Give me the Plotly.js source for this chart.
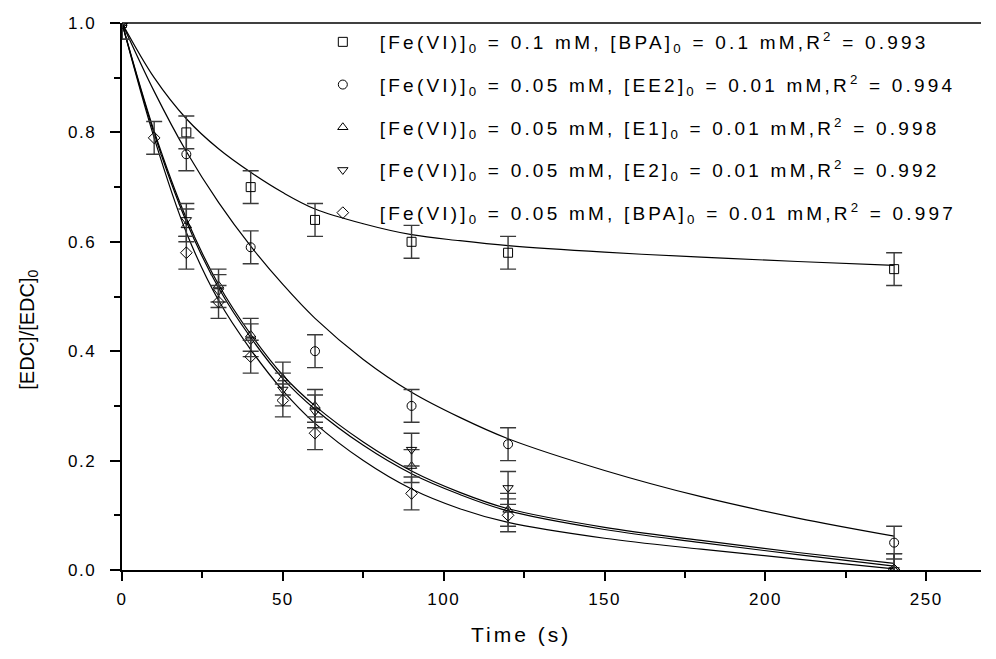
<!DOCTYPE html>
<html>
<head>
<meta charset="utf-8">
<script src="https://cdn.plot.ly/plotly-3.0.1.min.js"></script>
<style>
  html, body { margin: 0; padding: 0; background: #fff; }
  #chart { width: 996px; height: 659px; }
  .legendtext { letter-spacing: 3.2px; }
  .xtick text, .ytick text { letter-spacing: 1.5px; }
</style>
</head>
<body>
<div id="chart"></div>
<script>
// ---- data ----
const seriesNames = [
  "[Fe(VI)]<sub>0</sub> = 0.1 mM, [BPA]<sub>0</sub> = 0.1 mM,R<sup>2</sup> = 0.993",
  "[Fe(VI)]<sub>0</sub> = 0.05 mM, [EE2]<sub>0</sub> = 0.01 mM,R<sup>2</sup> = 0.994",
  "[Fe(VI)]<sub>0</sub> = 0.05 mM, [E1]<sub>0</sub> = 0.01 mM,R<sup>2</sup> = 0.998",
  "[Fe(VI)]<sub>0</sub> = 0.05 mM, [E2]<sub>0</sub> = 0.01 mM,R<sup>2</sup> = 0.992",
  "[Fe(VI)]<sub>0</sub> = 0.05 mM, [BPA]<sub>0</sub> = 0.01 mM,R<sup>2</sup> = 0.997"
];
const symbols = ["square-open", "circle-open", "triangle-up-open", "triangle-down-open", "diamond-open"];

const tBPA01 = [0, 20, 40, 60, 90, 120, 240];
const yBPA01 = [1.0, 0.80, 0.70, 0.64, 0.60, 0.58, 0.55];
const tEE2 = [0, 20, 40, 60, 90, 120, 240];
const yEE2 = [1.0, 0.76, 0.59, 0.40, 0.30, 0.23, 0.05];
const tE1 = [0, 20, 30, 40, 50, 60, 90, 120, 240];
const yE1 = [1.0, 0.63, 0.52, 0.43, 0.35, 0.30, 0.19, 0.11, 0.0];
const tE2 = [0, 20, 30, 40, 50, 60, 90, 120, 240];
const yE2 = [1.0, 0.64, 0.51, 0.42, 0.33, 0.29, 0.22, 0.15, 0.0];
const tBPA001 = [0, 10, 20, 30, 40, 50, 60, 90, 120, 240];
const yBPA001 = [1.0, 0.79, 0.58, 0.49, 0.39, 0.31, 0.25, 0.14, 0.10, 0.0];
const errVal = 0.03;

// fitted curves
const fitT = [0, 10, 20, 30, 40, 50, 60, 75, 90, 105, 120, 150, 180, 210, 240];
const fitBPA01 = [1.0, 0.90, 0.825, 0.77, 0.727, 0.69, 0.66, 0.633, 0.613, 0.602, 0.593, 0.581, 0.572, 0.564, 0.557];
const fitEE2 = [1.0, 0.875, 0.765, 0.672, 0.592, 0.522, 0.46, 0.385, 0.325, 0.279, 0.240, 0.182, 0.134, 0.095, 0.062];
const fitE1 = [1.0, 0.802, 0.643, 0.522, 0.431, 0.356, 0.300, 0.234, 0.181, 0.142, 0.112, 0.078, 0.054, 0.032, 0.012];
const fitE2 = [1.0, 0.798, 0.637, 0.516, 0.425, 0.350, 0.294, 0.228, 0.176, 0.138, 0.108, 0.074, 0.050, 0.028, 0.007];
const fitBPA001 = [1.0, 0.79, 0.617, 0.493, 0.403, 0.328, 0.268, 0.200, 0.148, 0.112, 0.087, 0.058, 0.038, 0.020, 0.002];

const dataSets = [
  [tBPA01, yBPA01, fitBPA01],
  [tEE2, yEE2, fitEE2],
  [tE1, yE1, fitE1],
  [tE2, yE2, fitE2],
  [tBPA001, yBPA001, fitBPA001]
];

const traces = [];
dataSets.forEach((d, i) => {
  traces.push({
    x: fitT, y: d[2], mode: 'lines', type: 'scatter',
    line: { color: '#000', width: 1.2, shape: 'spline', smoothing: 1 },
    showlegend: false, hoverinfo: 'skip'
  });
});
dataSets.forEach((d, i) => {
  traces.push({
    x: d[0], y: d[1], mode: 'markers', type: 'scatter',
    name: seriesNames[i], legendgroup: 'g' + i,
    marker: { symbol: symbols[i], size: 9, color: '#000', line: { width: 1, color: '#000' } },
    error_y: { type: 'constant', value: errVal, color: '#3a3a3a', thickness: 1.4, width: 8 }
  });
});

const layout = {
  width: 996, height: 659,
  margin: { l: 122, r: 15, t: 23, b: 89 },
  paper_bgcolor: '#fff', plot_bgcolor: '#fff',
  font: { family: 'Liberation Sans, Arial, sans-serif', color: '#000', size: 17 },
  showlegend: true,
  legend: {
    x: 0.214, y: 1.0, xanchor: 'left', yanchor: 'top',
    bgcolor: 'rgba(0,0,0,0)', borderwidth: 0,
    font: { size: 19, color: '#000' },
    itemwidth: 64,
    traceorder: 'grouped', tracegroupgap: 15
  },
  xaxis: {
    range: [0, 267], showgrid: false, zeroline: false,
    showline: true, linecolor: '#000', linewidth: 2,
    ticks: 'outside', ticklen: 9, tickwidth: 2, tickcolor: '#000',
    tickvals: [0, 50, 100, 150, 200, 250],
    minor: { tickvals: [25, 75, 125, 175, 225], ticks: 'outside', ticklen: 6, tickwidth: 2, tickcolor: '#000' },
    tickfont: { size: 17 }, ticklabelstandoff: 4
  },
  yaxis: {
    range: [0, 1], showgrid: false, zeroline: false,
    showline: true, linecolor: '#000', linewidth: 2.5,
    ticks: 'outside', ticklen: 10, tickwidth: 2, tickcolor: '#000',
    tickvals: [0, 0.2, 0.4, 0.6, 0.8, 1.0], ticktext: ['0.0', '0.2', '0.4', '0.6', '0.8', '1.0'],
    minor: { tickvals: [0.1, 0.3, 0.5, 0.7, 0.9], ticks: 'outside', ticklen: 6, tickwidth: 2, tickcolor: '#000' },
    tickfont: { size: 17 }, ticklabelstandoff: 10
  },
  shapes: [
    { type: 'line', xref: 'paper', yref: 'paper', x0: 0, x1: 1, y0: 1, y1: 1, line: { color: '#000', width: 1.5 } }
  ],
  annotations: [
    { text: '<span style="letter-spacing:3px">Time (s)</span>', xref: 'paper', yref: 'paper', x: (521 - 122) / (981 - 122), y: -0.118,
      xanchor: 'center', yanchor: 'middle', showarrow: false, font: { size: 21 } },
    { text: '[EDC]/[EDC]<sub>0</sub>', xref: 'paper', yref: 'paper', x: -0.109, y: 0.44,
      xanchor: 'center', yanchor: 'middle', showarrow: false, textangle: -90, font: { size: 20 } }
  ]
};

Plotly.newPlot('chart', traces, layout, { displayModeBar: false, staticPlot: true });
</script>
</body>
</html>
